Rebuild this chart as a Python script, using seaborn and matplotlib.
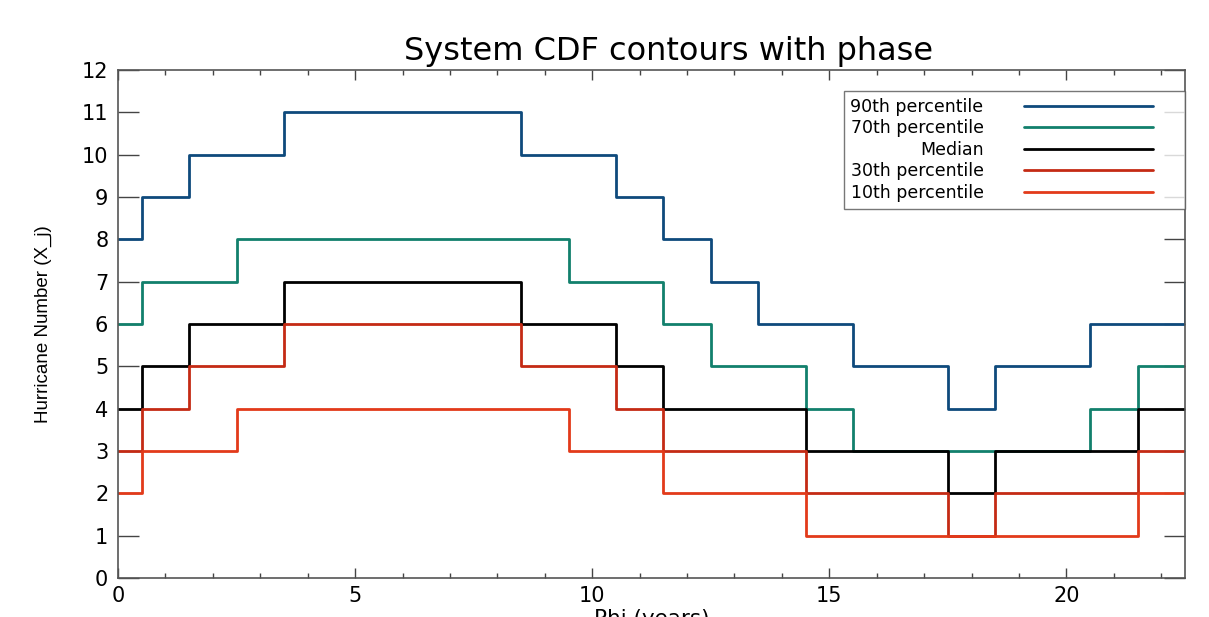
import numpy as np
import pandas as pd
import matplotlib
matplotlib.use("Agg")
import matplotlib.pyplot as plt
from matplotlib.legend_handler import HandlerLine2D
import seaborn as sns

# ---- data ----
phi = list(range(0, 24))
p90 = [8, 9, 10, 10, 11, 11, 11, 11, 11, 10, 10, 9, 8, 7, 6, 6, 5, 5, 4, 5, 5, 6, 6, 7]
p70 = [6, 7, 7, 8, 8, 8, 8, 8, 8, 8, 7, 7, 6, 5, 5, 4, 3, 3, 3, 3, 3, 4, 5, 5]
median = [4, 5, 6, 6, 7, 7, 7, 7, 7, 6, 6, 5, 4, 4, 4, 3, 3, 3, 2, 3, 3, 3, 4, 4]
p30 = [3, 4, 5, 5, 6, 6, 6, 6, 6, 5, 5, 4, 3, 3, 3, 2, 2, 2, 1, 2, 2, 2, 3, 3]
p10 = [2, 3, 3, 4, 4, 4, 4, 4, 4, 4, 3, 3, 2, 2, 2, 1, 1, 1, 1, 1, 1, 1, 2, 2]

series_names = ["90th percentile", "70th percentile", "Median", "30th percentile", "10th percentile"]
series_values = [p90, p70, median, p30, p10]
colors = ["#0e4a7c", "#12806c", "#000000", "#c42a14", "#e23a1a"]

y_ticks = list(range(0, 13))
x_ticks = [0, 5, 10, 15, 20]

df = pd.concat(
    [pd.DataFrame({"phi": phi, "value": v, "series": n}) for n, v in zip(series_names, series_values)],
    ignore_index=True,
)

sns.set_style("white")
plt.rcParams["font.family"] = ["DejaVu Sans"]
plt.rcParams["text.color"] = "black"
plt.rcParams["axes.labelcolor"] = "black"
plt.rcParams["xtick.labelcolor"] = "black"
plt.rcParams["ytick.labelcolor"] = "black"

fig = plt.figure(figsize=(12.09, 6.17), dpi=100)
ax = fig.add_axes([118 / 1209, 1 - 578 / 617, (1185 - 118) / 1209, (578 - 70) / 617])

sns.lineplot(
    data=df, x="phi", y="value", hue="series", hue_order=series_names,
    palette=dict(zip(series_names, colors)), drawstyle="steps-mid",
    linewidth=2.0, legend=False, ax=ax, errorbar=None,
)

ax.set_xlim(0, 22.5)
ax.set_ylim(0, 12)
ax.set_yticks(y_ticks)
ax.set_xticks(x_ticks)
ax.set_xticks(np.arange(0, 23, 1), minor=True)

tick_col = "#444444"
ax.tick_params(axis="y", which="major", direction="in", length=15, width=1.0,
               color=tick_col, left=True, right=True, labelsize=15, pad=7)
ax.tick_params(axis="x", which="major", direction="in", length=7, width=1.0,
               color=tick_col, bottom=True, top=True, labelsize=15, pad=6)
ax.tick_params(axis="x", which="minor", direction="in", length=3.5, width=1.0,
               color=tick_col, bottom=True, top=True)
for s in ax.spines.values():
    s.set_color("#555555")
    s.set_linewidth(1.2)

ax.set_title("System CDF contours with phase", fontsize=23, x=0.516, pad=7, color="black")
ax.set_xlabel("Phi (years)", fontsize=15.5, labelpad=2)
ax.set_ylabel("Hurricane Number (X_j)", fontsize=13.5, family=["Liberation Sans", "DejaVu Sans"])
ax.yaxis.set_label_coords(-0.062, 0.5)


class ShortLineHandler(HandlerLine2D):
    """Legend line that leaves a gap on its right side."""
    def create_artists(self, legend, orig_handle, xdescent, ydescent, width, height, fontsize, trans):
        arts = super().create_artists(legend, orig_handle, xdescent, ydescent, width, height, fontsize, trans)
        line = arts[0]
        x = np.asarray(line.get_xdata(), dtype=float)
        x0, x1 = x.min(), x.max()
        line.set_xdata(np.linspace(x0, x0 + (x1 - x0) * 0.84, len(x)))
        return arts


handles = ax.get_lines()[:len(series_names)]
leg = ax.legend(
    handles, series_names, loc="upper right", bbox_to_anchor=(1.0, 1 - 21 / 508),
    borderaxespad=0, markerfirst=False, frameon=True, fancybox=False,
    edgecolor="#555555", fontsize=12.5, handlelength=8.9, handletextpad=2.3,
    labelspacing=0.2, borderpad=0.4,
    handler_map={h: ShortLineHandler() for h in handles},
)
leg.get_frame().set_linewidth(1.0)

fig.savefig("out.png", dpi=100)
